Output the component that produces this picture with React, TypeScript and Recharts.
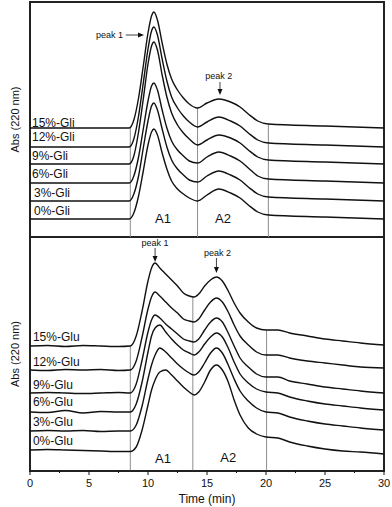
import React from 'react'
import { LineChart, Line, XAxis, YAxis, ReferenceArea, ReferenceLine, ReferenceDot } from 'recharts'

// elution time (min) and absorbance traces (arbitrary offset units)
const gliTime = [0, 4, 8.4, 8.8, 9.2, 9.6, 10.0, 10.3, 10.5, 10.8, 11.2, 11.6, 12.0, 12.5, 13.0, 13.5, 14.2, 15.0, 16.0, 17.0, 17.8, 18.5, 19.3, 20.2, 25, 30]
const gli15 = [109, 109, 109, 117, 139, 171, 204, 221, 225, 217, 194, 173, 158, 147, 139, 133, 129, 134, 138, 135, 130, 123, 116, 113, 111, 109]
const gli12 = [90, 90, 90, 98, 121, 154, 188, 206, 210, 202, 178, 156, 140, 129, 121, 115, 110, 115, 120, 116, 111, 104, 97, 94, 92, 90]
const gli9 = [73, 73, 73, 81, 105, 138, 173, 191, 195, 187, 162, 140, 124, 112, 104, 98, 92, 97, 102, 99, 94, 87, 80, 77, 75, 73]
const gli6 = [54, 54, 54, 61, 80, 108, 136, 151, 154, 147, 127, 109, 96, 87, 81, 76, 74, 80, 85, 81, 76, 69, 61, 58, 56, 54]
const gli3 = [36, 36, 36, 43, 61, 89, 116, 131, 134, 127, 108, 90, 77, 68, 62, 57, 55, 61, 66, 62, 57, 50, 43, 40, 38, 36]
const gli0 = [18, 18, 18, 24, 41, 66, 92, 105, 108, 102, 84, 68, 56, 48, 43, 39, 36, 42, 48, 44, 39, 32, 25, 22, 20, 18]

const gluTime = [0, 1.5, 3, 4.5, 6, 7.5, 8.5, 9.0, 9.5, 10.0, 10.3, 10.6, 11.0, 11.5, 12.0, 12.5, 13.0, 13.5, 13.9, 14.3, 14.8, 15.3, 15.8, 16.3, 16.8, 17.3, 17.8, 18.5, 19.2, 20.0, 21.0, 22.0, 23.5, 25, 26.5, 28, 30]
const glu15 = [125, 125.5, 124.5, 125.5, 125, 124.5, 125, 135, 160, 190, 203, 208, 203, 197, 191, 185, 178, 175, 174, 177, 185, 191, 194, 190, 180, 168, 158, 149, 143, 141, 141, 138, 135, 132, 130, 128, 126]
const glu12 = [101, 100.5, 101.5, 101, 101.5, 100.5, 101, 110, 134, 162, 174, 179, 175, 169, 163, 158, 152, 150, 149, 152, 161, 169, 173, 169, 159, 146, 135, 126, 119, 116, 116, 113, 110, 108, 106, 104, 103]
const glu9 = [78, 78.5, 78, 77.5, 78, 78.5, 78, 87, 111, 139, 151, 156, 153, 147, 142, 137, 132, 130, 129, 132, 141, 149, 153, 149, 138, 125, 113, 104, 97, 94, 94, 90, 87, 84, 82, 80, 78]
const glu6 = [59, 58.5, 60.5, 58, 59.5, 59, 59, 67, 89, 119, 135, 143, 146, 139, 132, 126, 121, 118, 116, 119, 127, 134, 138, 134, 123, 109, 97, 88, 82, 79, 78, 74, 70, 67, 65, 63, 61]
const glu3 = [40, 40.5, 40, 40.5, 39.5, 40, 40, 46, 65, 92, 106, 116, 123, 119, 113, 107, 102, 98, 96, 99, 108, 118, 123, 118, 106, 92, 80, 70, 63, 59, 58, 54, 50, 47, 45, 43, 41]
const glu0 = [21, 21.5, 21, 20.5, 20, 19.5, 19.5, 24, 41, 66, 81, 91, 99, 101, 96, 90, 84, 79, 76, 79, 89, 101, 106, 101, 89, 71, 56, 43, 37, 34, 33, 29, 25, 22, 20, 19, 17]

const gliNames = ['15%-Gli', '12%-Gli', '9%-Gli', '6%-Gli', '3%-Gli', '0%-Gli']
const gluNames = ['15%-Glu', '12%-Glu', '9%-Glu', '6%-Glu', '3%-Glu', '0%-Glu']
const timeTicks = [0, 2.5, 5, 7.5, 10, 12.5, 15, 17.5, 20, 22.5, 25, 27.5, 30]

const gliRows = gliTime.map((t, i) => ({ t, s0: gli15[i], s1: gli12[i], s2: gli9[i], s3: gli6[i], s4: gli3[i], s5: gli0[i] }))
const gluRows = gluTime.map((t, i) => ({ t, s0: glu15[i], s1: glu12[i], s2: glu9[i], s3: glu6[i], s4: glu3[i], s5: glu0[i] }))

// where the trace names sit (time, level)
const gliLabelPos = [[0.17, 114], [0.17, 100], [0.17, 81], [0.17, 63], [0.34, 44], [0.34, 26]]
const gluLabelPos = [[0.25, 134], [0.25, 109], [0.25, 86], [0.25, 69], [0.25, 49], [0.25, 30]]

const FONT = '"Liberation Sans", Arial, sans-serif'
const INK = '#111'

function note(text: string, size: number, anchor: 'start' | 'middle' | 'end' = 'start') {
  return (p: any) => (
    <text x={p.cx} y={p.cy} dy="0.35em" textAnchor={anchor} fontSize={size} fontFamily={FONT} fill={INK}>{text}</text>
  )
}

const headDown = (p: any) => <polygon points={`${p.cx},${p.cy} ${p.cx - 2.5},${p.cy - 6} ${p.cx + 2.5},${p.cy - 6}`} fill={INK} />
const headRight = (p: any) => <polygon points={`${p.cx},${p.cy} ${p.cx - 6},${p.cy - 2.5} ${p.cx - 6},${p.cy + 2.5}`} fill={INK} />

function TimeTick(props: any) {
  const { x, y, payload } = props
  const major = payload.value % 5 === 0
  return (
    <g>
      <line x1={x} x2={x} y1={y - 6} y2={y - 6 + (major ? 4 : 2)} stroke={INK} strokeWidth={1} />
      {major && <text x={x} y={y} dy={10} textAnchor="middle" fontSize={11} fontFamily={FONT} fill={INK}>{payload.value}</text>}
    </g>
  )
}

function traces() {
  return ['s0', 's1', 's2', 's3', 's4', 's5'].map((k) => (
    <Line key={k} type="monotone" dataKey={k} stroke={INK} strokeWidth={1.4} dot={false} isAnimationActive={false} />
  ))
}

const yLabel = { value: 'Abs (220 nm)', angle: -90, position: 'center' as const, style: { fontSize: 11, fill: INK, fontFamily: FONT } }

export default function App() {
  return (
    <div style={{ position: 'absolute', left: 0, top: 0, width: 392, height: 507, background: '#fff' }}>
      <LineChart width={392} height={237} data={gliRows} margin={{ top: 2, right: 8, bottom: 0, left: 0 }}>
        <XAxis dataKey="t" type="number" domain={[0, 30]} hide />
        <YAxis type="number" domain={[0, 235]} width={30} tick={false} axisLine={false} tickLine={false} label={yLabel} />
        <ReferenceLine segment={[{ x: 8.5, y: 0 }, { x: 8.5, y: 109 }]} stroke="#8c8c8c" strokeWidth={1} />
        <ReferenceLine segment={[{ x: 14.2, y: 0 }, { x: 14.2, y: 129 }]} stroke="#8c8c8c" strokeWidth={1} />
        <ReferenceLine segment={[{ x: 20.2, y: 0 }, { x: 20.2, y: 113 }]} stroke="#8c8c8c" strokeWidth={1} />
        {traces()}
        {gliNames.map((n, i) => (
          <ReferenceDot key={n} x={gliLabelPos[i][0]} y={gliLabelPos[i][1]} r={0} shape={note(n, 12)} />
        ))}
        <ReferenceDot x={11.27} y={19} r={0} shape={note('A1', 13, 'middle')} />
        <ReferenceDot x={16.36} y={19} r={0} shape={note('A2', 13, 'middle')} />
        <ReferenceDot x={7.88} y={202} r={0} shape={note('peak 1', 9, 'end')} />
        <ReferenceLine segment={[{ x: 8.12, y: 202 }, { x: 9.5, y: 202 }]} stroke={INK} strokeWidth={0.8} />
        <ReferenceDot x={9.66} y={202} r={0} shape={headRight} />
        <ReferenceDot x={16.0} y={161} r={0} shape={note('peak 2', 9, 'middle')} />
        <ReferenceLine segment={[{ x: 16.1, y: 155 }, { x: 16.1, y: 145 }]} stroke={INK} strokeWidth={0.8} />
        <ReferenceDot x={16.1} y={142} r={0} shape={headDown} />
        <ReferenceArea x1={0} x2={30} y1={0} y2={235} fill="none" stroke="#222" strokeWidth={2} />
      </LineChart>
      <LineChart width={392} height={270} data={gluRows} margin={{ top: 0, right: 8, bottom: 0, left: 0 }}>
        <XAxis
          dataKey="t"
          type="number"
          domain={[0, 30]}
          ticks={timeTicks}
          interval={0}
          height={36}
          tickSize={4}
          tickMargin={2}
          tickLine={false}
          axisLine={{ stroke: '#222', strokeWidth: 1.5 }}
          tick={<TimeTick />}
          label={{ value: 'Time (min)', position: 'insideBottom', offset: 4, style: { fontSize: 12, fill: INK, fontFamily: FONT } }}
        />
        <YAxis type="number" domain={[0, 234]} width={30} tick={false} axisLine={false} tickLine={false} label={yLabel} />
        <ReferenceLine segment={[{ x: 8.5, y: 0 }, { x: 8.5, y: 125 }]} stroke="#8c8c8c" strokeWidth={1} />
        <ReferenceLine segment={[{ x: 13.8, y: 0 }, { x: 13.8, y: 174 }]} stroke="#8c8c8c" strokeWidth={1} />
        <ReferenceLine segment={[{ x: 20.05, y: 0 }, { x: 20.05, y: 141 }]} stroke="#8c8c8c" strokeWidth={1} />
        {traces()}
        {gluNames.map((n, i) => (
          <ReferenceDot key={n} x={gluLabelPos[i][0]} y={gluLabelPos[i][1]} r={0} shape={note(n, 12)} />
        ))}
        <ReferenceDot x={11.27} y={13} r={0} shape={note('A1', 13, 'middle')} />
        <ReferenceDot x={16.8} y={14} r={0} shape={note('A2', 13, 'middle')} />
        <ReferenceDot x={10.6} y={228} r={0} shape={note('peak 1', 9, 'middle')} />
        <ReferenceLine segment={[{ x: 10.6, y: 223 }, { x: 10.6, y: 212 }]} stroke={INK} strokeWidth={0.8} />
        <ReferenceDot x={10.6} y={209} r={0} shape={headDown} />
        <ReferenceDot x={15.9} y={218} r={0} shape={note('peak 2', 9, 'middle')} />
        <ReferenceLine segment={[{ x: 15.8, y: 213 }, { x: 15.8, y: 201 }]} stroke={INK} strokeWidth={0.8} />
        <ReferenceDot x={15.8} y={198} r={0} shape={headDown} />
        <ReferenceArea x1={0} x2={30} y1={0} y2={234} fill="none" stroke="#222" strokeWidth={2} />
      </LineChart>
    </div>
  )
}
